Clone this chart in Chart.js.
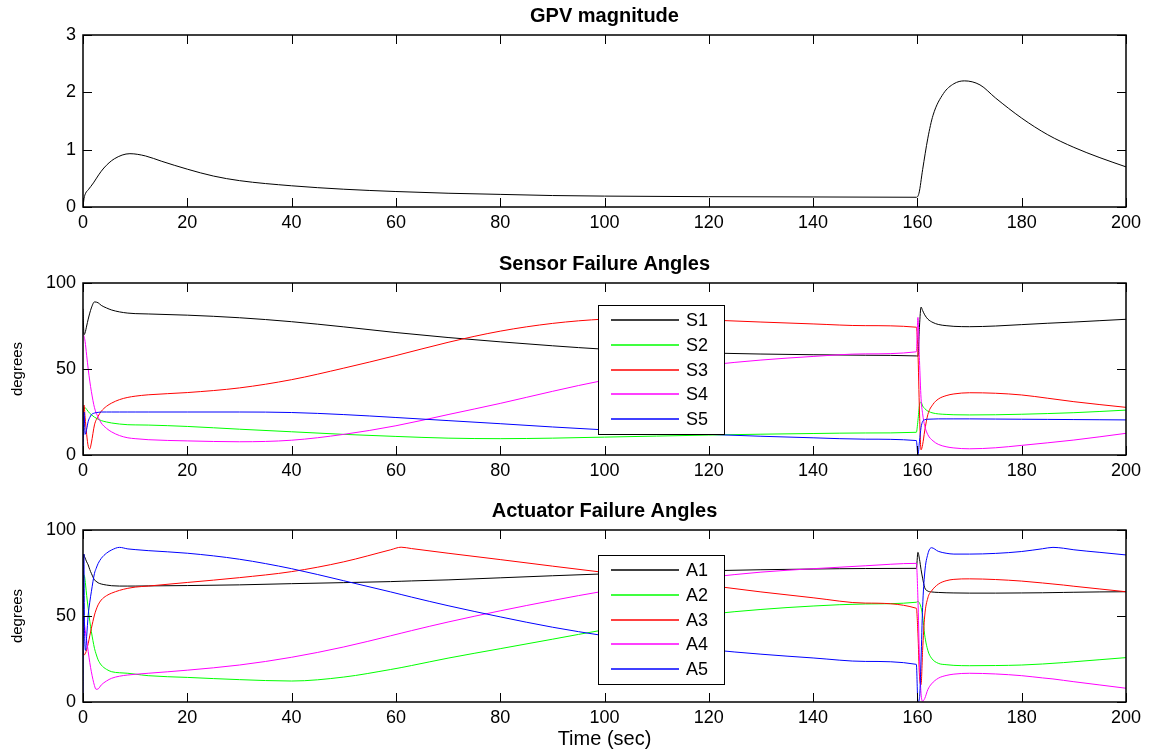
<!DOCTYPE html>
<html>
<head>
<meta charset="utf-8">
<title>GPV magnitude / failure angles</title>
<script src="https://cdn.jsdelivr.net/npm/chart.js@4.4.1/dist/chart.umd.min.js"></script>
<style>
  html, body { margin: 0; padding: 0; background: #fff; }
  #page { position: relative; width: 1158px; height: 752px; overflow: hidden; }
  #page canvas { position: absolute; left: 0; }
</style>
</head>
<body>
<div id="page">
  <canvas id="gpvChart" width="1158" height="248" style="top:0px"></canvas>
  <canvas id="sensChart" width="1158" height="247" style="top:248px"></canvas>
  <canvas id="actChart" width="1158" height="257" style="top:495px"></canvas>
</div>
<script>
// ---- datos ----
const xTickValues = [0, 20, 40, 60, 80, 100, 120, 140, 160, 180, 200];
const gpvTickValues = [0, 1, 2, 3];
const angleTickValues = [0, 50, 100];

// GPV magnitude
const gpvT = [0, 0.2, 0.5, 1, 2, 3, 4, 6, 9, 12, 15, 20, 25, 30, 40, 50, 60, 70, 80, 90, 100, 120, 140, 159.8,
  160.3, 161, 162, 163, 165, 167, 169, 172, 175, 180, 185, 190, 195, 200];
const gpv = [0, 0.15, 0.24, 0.3, 0.42, 0.56, 0.68, 0.84, 0.93, 0.89, 0.8, 0.66, 0.54, 0.46, 0.37, 0.31, 0.27, 0.24, 0.22, 0.2, 0.19, 0.18, 0.175, 0.17,
  0.24, 0.65, 1.2, 1.6, 1.98, 2.15, 2.2, 2.13, 1.9, 1.55, 1.26, 1.04, 0.86, 0.7];

// Sensor failure angles
const sensT = [0, 0.2, 0.4, 0.7, 1, 1.3, 1.6, 2.2, 2.9, 3.5, 4.5, 5.5, 7, 8.6, 10, 12.5, 20, 30, 40, 50, 60, 70, 80, 90, 100,
  110, 120, 130, 140, 150, 159.8, 160.1, 160.4, 160.7, 161, 161.4, 162, 163, 164, 165.5, 167, 170, 175, 180, 185, 190, 195, 200];
const s1 = [85, 70, 71, 75, 79, 82.5, 85.5, 89, 88.5, 87, 85.5, 84.3, 83.2, 82.5, 82.2, 82, 81.3, 79.8, 77.5, 74.5, 71.2, 68.3, 65.8, 63.5, 61.5,
  60.2, 59.3, 58.7, 58.3, 58, 57.6, 57.5, 75, 86, 84, 81.5, 79, 77, 75.9, 75.2, 74.8, 74.6, 75, 75.8, 76.6, 77.3, 78.1, 78.9];
const s2 = [25, 27, 27.5, 26.5, 25.3, 24.2, 23.4, 22, 20.8, 20, 19.2, 18.6, 18, 17.6, 17.5, 17.4, 16.6, 15, 13.5, 12, 10.8, 9.8, 9.5, 9.8, 10.4,
  11, 11.6, 12.1, 12.5, 12.8, 13.2, 20, 29, 30.8, 28.5, 27, 25.5, 24.4, 23.9, 23.6, 23.4, 23.3, 23.4, 23.7, 24.1, 24.6, 25.3, 26.1];
const s3 = [20, 29, 22, 12, 5, 3.5, 7, 17.5, 22.5, 25.4, 28.3, 30.2, 32.2, 33.5, 34.2, 35, 36.3, 39, 43.8, 50.5, 57.8, 65.5, 72, 76.5, 79,
  79.5, 78.5, 77.3, 76.2, 75.2, 74.3, 60, 25, 3, 6, 14, 23.5, 29.5, 32.5, 34.5, 35.5, 36.2, 35.9, 34.9, 33, 31, 29.3, 27.7];
const s4 = [70, 69, 66, 58, 50, 43, 37, 27.5, 22, 18.6, 15.5, 13.4, 11.3, 10, 9.5, 8.9, 8.2, 7.7, 8.6, 12, 17, 23.5, 30, 37, 43.5,
  48.5, 52.3, 55.2, 57.3, 58.8, 60, 80, 55, 33, 24, 17, 11.8, 8.2, 6.2, 4.8, 4.1, 3.6, 4.2, 5.6, 7.1, 8.7, 10.6, 12.6];
const s5 = [0, 25, 12, 15, 19.6, 21.8, 23.4, 24.4, 24.8, 25, 25, 25, 25, 25, 25, 25, 25, 25, 24.7, 23.5, 21.8, 20, 18.2, 16.3, 14.6,
  13.2, 12, 10.9, 10, 9.2, 8.4, 0, 8, 16, 19.5, 20.5, 20.8, 20.9, 21, 21, 21, 21, 20.9, 20.8, 20.7, 20.6, 20.5, 20.4];

// Actuator failure angles
const actT = [0, 0.15, 0.3, 0.5, 0.7, 1, 1.3, 1.6, 2.2, 2.5, 2.9, 3.5, 4.5, 5.5, 7, 8.6, 10, 12.5, 20, 30, 40, 50, 59, 61, 63, 70, 80, 90, 100,
  110, 120, 130, 140, 150, 159.8, 160.1, 160.4, 160.7, 161, 161.4, 162, 162.7, 164, 165.5, 167, 170, 175, 180, 184, 186, 188, 190, 195, 200];
const a1 = [84, 86, 84.5, 83, 81.5, 79.7, 77, 74.8, 71, 70.2, 69.3, 68.6, 68, 67.6, 67.4, 67.4, 67.4, 67.5, 67.7, 68.1, 68.8, 69.4, 70, 70.2, 70.4, 71, 72.2, 73.4, 74.5,
  75.5, 76.3, 76.9, 77.3, 77.6, 77.7, 87, 83, 77, 72, 66.5, 64.5, 64, 63.7, 63.5, 63.4, 63.3, 63.3, 63.4, 63.5, 63.6, 63.7, 63.8, 64, 64.1];
const a2 = [60, 74, 73, 68, 62, 54.5, 47, 41, 31.2, 28, 24.5, 21.5, 19, 17.6, 17, 16.7, 16.2, 15.3, 14.3, 13, 12.2, 14.5, 18.9, 20, 21.2, 25.5, 31, 36.5, 42,
  47, 51, 53.8, 55.8, 57, 58, 58.5, 57.5, 55, 50, 39, 30, 25.5, 22.5, 21.7, 21.3, 21.1, 21.2, 21.5, 22.1, 22.5, 22.9, 23.4, 24.6, 25.8];
const a3 = [30, 28, 27.5, 28.5, 30.5, 34, 38.5, 42.8, 50.6, 53.5, 56.5, 59.3, 61.8, 63.3, 64.9, 66.1, 66.8, 67.4, 69.5, 72.3, 75.8, 81.5, 88.5, 90, 89.2, 86.5, 82.8, 79, 75.3,
  71.5, 67.8, 64, 60.6, 57.5, 54.5, 40, 15, 10, 30, 50, 60.5, 64.5, 68.5, 70.5, 71.3, 71.6, 71.2, 70.3, 69.2, 68.6, 68, 67.3, 65.7, 64.1];
const a4 = [45, 50, 45, 40, 36, 29.3, 23, 17.6, 9.5, 7.4, 7.6, 9.9, 12.2, 13.8, 15, 15.7, 16.1, 16.7, 18.5, 21.5, 26, 32, 38.5, 40, 41.5, 46.5, 53, 59, 64.5,
  69, 72.5, 75.5, 77.5, 79.2, 80.6, 60, 25, 5, 0.5, 2, 7.2, 10.5, 13.8, 15.4, 16.2, 16.7, 16.3, 15.3, 14, 13.4, 12.6, 11.8, 9.9, 8];
const a5 = [0, 86, 40, 30, 38, 50.6, 58, 64.1, 74.8, 77.5, 80.5, 83.5, 86.5, 88.4, 89.9, 89, 88.6, 88, 86.5, 83, 77.5, 70.5, 64, 62.5, 61, 56, 49.5, 43.5, 38.5,
  34, 30.5, 27.8, 25.6, 23.6, 21.9, 0, 2, 25, 55, 75, 86, 89.7, 87.6, 86.5, 86, 86, 86.4, 87.5, 89.1, 89.9, 89.4, 88.5, 87, 85.5];

const colors = ['#000000', '#00ff00', '#ff0000', '#ff00ff', '#0000ff'];

Chart.defaults.font.family = '"Liberation Sans", Arial, Helvetica, sans-serif';
Chart.defaults.color = '#000';

// ---- helpers ----
function series(t, v, label, color, order) {
  return {
    label,
    data: t.map((x, i) => ({ x, y: v[i] })),
    borderColor: color,
    backgroundColor: color,
    borderWidth: 1,
    pointRadius: 0,
    cubicInterpolationMode: 'monotone',
    fill: false,
    order
  };
}

// caja tipo matlab con marcas hacia dentro
const boxPlugin = {
  id: 'boxTicks',
  afterDatasetsDraw(chart) {
    const { ctx, chartArea: a, scales } = chart;
    const len = 9;
    ctx.save();
    ctx.strokeStyle = '#000';
    ctx.lineWidth = 1;
    ctx.beginPath();
    scales.x.ticks.forEach(tk => {
      const px = Math.round(scales.x.getPixelForValue(tk.value)) + 0.5;
      ctx.moveTo(px, a.bottom); ctx.lineTo(px, a.bottom - len);
      ctx.moveTo(px, a.top); ctx.lineTo(px, a.top + len);
    });
    scales.y.ticks.forEach(tk => {
      const py = Math.round(scales.y.getPixelForValue(tk.value)) + 0.5;
      ctx.moveTo(a.left, py); ctx.lineTo(a.left + len, py);
      ctx.moveTo(a.right, py); ctx.lineTo(a.right - len, py);
    });
    ctx.stroke();
    ctx.lineWidth = 1.5;
    ctx.strokeRect(a.left, a.top, a.right - a.left, a.bottom - a.top);
    ctx.restore();
  }
};

// leyenda dentro del area
const legendBoxPlugin = {
  id: 'legendBox',
  afterDatasetsDraw(chart, args, opts) {
    if (!opts.show) return;
    const { ctx, chartArea: a } = chart;
    const x0 = a.left + opts.dx, y0 = a.top + opts.dy;
    ctx.save();
    ctx.fillStyle = '#fff';
    ctx.fillRect(x0, y0, opts.w, opts.h);
    ctx.strokeStyle = '#000';
    ctx.lineWidth = 1;
    ctx.strokeRect(x0 + 0.5, y0 + 0.5, opts.w, opts.h);
    ctx.font = '18px "Liberation Sans", Arial, sans-serif';
    ctx.textBaseline = 'middle';
    ctx.textAlign = 'left';
    chart.data.datasets.forEach((ds, i) => {
      const y = Math.round(y0 + 15 + i * 24.8);
      ctx.beginPath();
      ctx.strokeStyle = colors[i];
      ctx.lineWidth = 1.4;
      ctx.moveTo(x0 + 13, y);
      ctx.lineTo(x0 + 81, y);
      ctx.stroke();
      ctx.fillStyle = '#000';
      ctx.fillText(ds.label, x0 + 88, y + 1);
    });
    ctx.restore();
  }
};

function makeChart(id, cfg) {
  const xScale = {
    type: 'linear',
    min: 0, max: 200,
    grid: { display: false, drawTicks: false },
    border: { display: false },
    ticks: { font: { size: 18 }, padding: 5, maxRotation: 0, autoSkip: false },
    afterBuildTicks: s => { s.ticks = xTickValues.map(v => ({ value: v })); },
    afterFit: s => { s.height = cfg.xHeight; s.paddingLeft = 0; s.paddingRight = 0; }
  };
  if (cfg.xTitle) {
    xScale.title = { display: true, text: cfg.xTitle, font: { size: 20 }, padding: { top: 0, bottom: 1 } };
  }
  const yScale = {
    min: cfg.yMin, max: cfg.yMax,
    grid: { display: false, drawTicks: false },
    border: { display: false },
    ticks: { font: { size: 18 }, padding: 7 },
    afterBuildTicks: s => { s.ticks = cfg.yTicks.map(v => ({ value: v })); },
    afterFit: s => { s.width = 83; s.paddingTop = 0; s.paddingBottom = 0; }
  };
  if (cfg.yTitle) {
    yScale.title = { display: true, text: cfg.yTitle, font: { size: 15 }, padding: { top: 9, bottom: 0 } };
  }
  return new Chart(document.getElementById(id).getContext('2d'), {
    type: 'line',
    data: { datasets: cfg.datasets },
    options: {
      responsive: false,
      animation: false,
      events: [],
      layout: { padding: { left: 0, right: 32, top: 0, bottom: 0 } },
      scales: { x: xScale, y: yScale },
      plugins: {
        legend: { display: false },
        tooltip: { enabled: false },
        title: {
          display: true,
          text: cfg.title,
          fullSize: false,
          font: { size: 20, weight: 'bold', lineHeight: 1.2 },
          padding: { top: 4, bottom: 7 }
        },
        legendBox: cfg.legend || { show: false }
      }
    },
    plugins: [boxPlugin, legendBoxPlugin]
  });
}

makeChart('gpvChart', {
  title: 'GPV magnitude',
  xHeight: 41,
  yMin: 0, yMax: 3, yTicks: gpvTickValues,
  datasets: [series(gpvT, gpv, 'GPV', '#000000', 0)]
});

makeChart('sensChart', {
  title: 'Sensor Failure Angles',
  xHeight: 40,
  yMin: 0, yMax: 100, yTicks: angleTickValues,
  yTitle: 'degrees',
  datasets: [
    series(sensT, s1, 'S1', colors[0], 5),
    series(sensT, s2, 'S2', colors[1], 4),
    series(sensT, s3, 'S3', colors[2], 3),
    series(sensT, s4, 'S4', colors[3], 2),
    series(sensT, s5, 'S5', colors[4], 1)
  ],
  legend: { show: true, dx: 515, dy: 22, w: 126, h: 129 }
});

makeChart('actChart', {
  title: 'Actuator Failure Angles',
  xHeight: 50,
  xTitle: 'Time (sec)',
  yMin: 0, yMax: 100, yTicks: angleTickValues,
  yTitle: 'degrees',
  datasets: [
    series(actT, a1, 'A1', colors[0], 5),
    series(actT, a2, 'A2', colors[1], 4),
    series(actT, a3, 'A3', colors[2], 3),
    series(actT, a4, 'A4', colors[3], 2),
    series(actT, a5, 'A5', colors[4], 1)
  ],
  legend: { show: true, dx: 515, dy: 25, w: 126, h: 129 }
});
</script>
</body>
</html>
